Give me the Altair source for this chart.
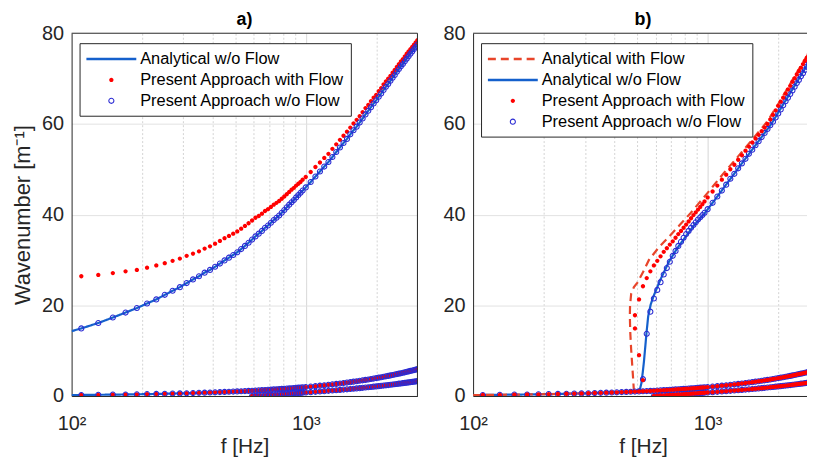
import altair as alt
import pandas as pd

# ---------------- data ----------------
# frequency grid of the "present approach" markers [Hz]
F_GRID = [110, 130, 150, 170, 190, 210, 230, 250, 270, 290, 310, 330, 350, 370, 390,
          410, 430, 450, 470, 490, 510, 530, 550, 570, 590, 610, 630, 650, 670, 690,
          710, 730, 750, 770, 790, 810, 830, 850, 870, 890, 910, 930, 950, 970,
          1000, 1050, 1100, 1150, 1200, 1250, 1300, 1350, 1400, 1450, 1500, 1550, 1600,
          1650, 1700, 1750, 1800, 1850, 1900, 1950, 2000, 2050, 2100, 2150, 2200, 2250,
          2300, 2350, 2400, 2450, 2500, 2550, 2600, 2650, 2700, 2750, 2800, 2850, 2900,
          2950, 3000]

F_LEFT = 100
A_UP_WO_LEFT = 14.3
LOW_A_LEFT = 0.2

# panel a) upper mode, without flow
A_UP_WO = [14.9, 16.1, 17.3, 18.4, 19.4, 20.4, 21.3, 22.3, 23.2, 24.0,
           24.9, 25.7, 26.4, 27.2, 27.8, 28.5, 29.2, 29.9, 30.5, 31.1,
           31.7, 32.4, 33.1, 33.8, 34.5, 35.2, 35.8, 36.4, 37.1, 37.6,
           38.2, 38.8, 39.3, 39.8, 40.4, 41.0, 41.6, 42.2, 42.7, 43.2,
           43.8, 44.3, 44.8, 45.3,
           46.0, 47.2, 48.4, 49.5, 50.6, 51.6, 52.7, 53.8, 54.8, 55.8,
           56.7, 57.7, 58.6, 59.4, 60.3, 61.2, 62.1, 62.9, 63.7, 64.5,
           65.2, 66.0, 66.7, 67.5, 68.2, 68.8, 69.5, 70.2, 70.8, 71.5,
           72.1, 72.7, 73.2, 73.8, 74.4, 74.9, 75.5, 76.0, 76.5, 77.0, 77.5]

# panel a) upper mode, with flow (present approach)
A_UP_WITH = [26.4, 26.7, 27.1, 27.5, 27.8, 28.3, 28.8, 29.3, 29.8, 30.3,
             30.9, 31.4, 31.9, 32.5, 33.0, 33.6, 34.2, 34.8, 35.3, 35.8,
             36.3, 36.9, 37.5, 38.1, 38.7, 39.3, 39.7, 40.2, 40.8, 41.2,
             41.7, 42.2, 42.6, 43.0, 43.5, 44.0, 44.5, 45.0, 45.5, 45.9,
             46.4, 46.8, 47.2, 47.7,
             48.3, 49.4, 50.5, 51.5, 52.5, 53.4, 54.5, 55.5, 56.5, 57.4,
             58.3, 59.2, 60.1, 60.9, 61.7, 62.6, 63.5, 64.2, 65.0, 65.8,
             66.4, 67.2, 67.9, 68.7, 69.4, 70.0, 70.6, 71.3, 71.9, 72.6,
             73.2, 73.8, 74.3, 74.9, 75.5, 76.0, 76.5, 77.0, 77.5, 78.0, 78.5]

# lower branches (both panels)
LOW_A = [0.22, 0.26, 0.30, 0.33, 0.37, 0.41, 0.45, 0.49, 0.53, 0.57,
         0.61, 0.65, 0.69, 0.73, 0.77, 0.81, 0.85, 0.89, 0.93, 0.97,
         1.00, 1.04, 1.08, 1.12, 1.16, 1.20, 1.24, 1.28, 1.32, 1.36,
         1.40, 1.44, 1.48, 1.52, 1.56, 1.60, 1.64, 1.67, 1.71, 1.75,
         1.79, 1.83, 1.87, 1.91,
         1.97, 2.07, 2.17, 2.27, 2.36, 2.46, 2.56, 2.66, 2.76, 2.86,
         2.96, 3.05, 3.15, 3.25, 3.35, 3.45, 3.55, 3.64, 3.74, 3.84,
         3.94, 4.04, 4.14, 4.24, 4.33, 4.43, 4.53, 4.63, 4.73, 4.83,
         4.92, 5.02, 5.12, 5.22, 5.32, 5.42, 5.52, 5.61, 5.71, 5.81, 5.91]

LOW_B = [0.00, 0.05, 0.10, 0.14, 0.18, 0.22, 0.26, 0.30, 0.33, 0.37,
         0.40, 0.44, 0.47, 0.51, 0.54, 0.58, 0.61, 0.65, 0.68, 0.71,
         0.76, 0.84, 0.92, 0.99, 1.06, 1.13, 1.20, 1.27, 1.34, 1.41,
         1.47, 1.54, 1.60, 1.67, 1.73, 1.80, 1.86, 1.93, 1.99, 2.05,
         2.11, 2.17, 2.23, 2.29, 2.35, 2.41, 2.47, 2.53, 2.59, 2.65,
         2.71, 2.76, 2.82, 2.88, 2.94, 2.99, 3.05, 3.11, 3.16, 3.22, 3.27]

# panel b) analytical curves of the cut-on mode
B_ANA_WITH_F = [485, 481, 476, 472, 468, 466, 467, 472, 485, 502, 530, 562, 620, 684,
                760, 845, 1000, 1200, 1400, 1600, 1800, 2000, 2200, 2400, 2600, 2813]
B_ANA_WITH_K = [1.0, 4.0, 7.5, 10.3, 14.0, 17.6, 20.0, 22.5, 24.0, 25.0, 27.3, 30.0, 32.8, 35.1,
                37.7, 40.3, 44.8, 49.8, 53.8, 57.4, 60.6, 64.4, 68.0, 71.3, 74.3, 77.0]
B_ANA_WO_F = [501, 515, 522, 527, 535, 541, 549, 558, 572, 590, 610, 631, 684, 740,
              805, 880, 962, 1100, 1219, 1400, 1600, 1870, 2000, 2200, 2400, 2600, 2813]
B_ANA_WO_K = [1.0, 1.6, 2.8, 4.5, 7.5, 10.3, 14.0, 17.6, 20.2, 22.2, 24.0, 25.8, 29.6, 32.5,
              35.1, 37.8, 40.0, 44.0, 47.1, 51.3, 55.3, 60.0, 62.5, 66.0, 69.2, 72.2, 75.0]

# panel b) present approach, cut-on mode
B_DOT_WITH_F_LOW = [530, 510, 490, 490, 510, 530, 550, 570, 590, 610, 630, 650, 670, 690,
                    710, 730, 750, 770, 790, 810, 830, 850, 870, 890, 910, 930, 950, 970]
B_DOT_WITH_K = [3.5, 9.0, 14.9, 17.8, 21.3, 24.2, 26.0, 27.5, 28.8, 29.8, 30.8, 31.8, 32.6, 33.4,
                34.1, 34.9, 35.7, 36.4, 37.1, 37.8, 38.5, 39.2, 39.9, 40.5, 41.1, 41.7, 42.3, 42.9,
                43.8, 45.1, 46.4, 47.7, 48.8, 50.0, 51.0, 52.1, 53.1, 54.1,
                55.0, 55.9, 56.8, 57.6, 58.4, 59.2, 60.0, 61.0, 62.0, 63.0,
                64.0, 64.9, 65.8, 66.7, 67.6, 68.4, 69.3, 70.1, 70.9, 71.7,
                72.4, 73.2, 73.9, 74.6, 75.3, 76.0, 76.7, 77.4, 78.0, 78.7, 79.3]
B_CIRC_WO_K = [3.7, 13.7, 18.6, 21.5, 23.4, 25.1, 26.8, 28.2, 29.6, 30.9,
               32.0, 33.1, 34.0, 34.9, 35.7, 36.4, 37.1, 37.7, 38.3, 38.9,
               39.4, 39.9, 40.4,
               41.2, 42.6, 44.0, 45.3, 46.6, 47.9, 49.0, 50.2, 51.3, 52.3,
               53.4, 54.3, 55.3, 56.2, 57.1, 58.0, 58.9, 59.7, 60.5, 61.4,
               62.3, 63.2, 64.1, 65.0, 65.8, 66.6, 67.4, 68.2, 69.0, 69.7,
               70.5, 71.2, 71.9, 72.6, 73.3, 74.0, 74.7, 75.4, 76.0, 76.6, 77.2]

X_TICKS_A = [100, 200, 300, 400, 500, 600, 700, 800, 900, 1000, 2000, 3000]
X_TICKS_B = [100, 200, 300, 400, 500, 600, 700, 800, 900, 1000, 2000]
Y_TICKS = [0, 20, 40, 60, 80]

AN_WITH = "Analytical with Flow"
AN_WO = "Analytical w/o Flow"
PA_WITH = "Present Approach with Flow"
PA_WO = "Present Approach w/o Flow"

# ---------------- styling ----------------
FONT = "Liberation Sans"
C_DASH = "#E8452A"
C_LINE = "#1560CC"
C_DOT = "#FF0000"
C_RING = "#2B2BD3"
INK = "#262626"
LINE_PATH = "M-3,0L3,0"
DOT_PATH = "M-0.26,0A0.26,0.26,0,1,0,0.26,0A0.26,0.26,0,1,0,-0.26,0Z"
RING_PATH = ("M-0.37,0A0.37,0.37,0,1,0,0.37,0A0.37,0.37,0,1,0,-0.37,0Z"
             "M-0.24,0A0.24,0.24,0,1,1,0.24,0A0.24,0.24,0,1,1,-0.24,0Z")

F_LOW_B = F_GRID[F_GRID.index(590):]
F_FROM_1000 = F_GRID[F_GRID.index(1000):]
F_FROM_530 = F_GRID[F_GRID.index(530):]


def frame(series, branch, fs, ks):
    return pd.DataFrame({"f": fs, "k": ks, "series": series, "branch": branch,
                         "i": list(range(len(fs)))})


def lows(series, with_left):
    fa = ([F_LEFT] + F_GRID) if with_left else F_GRID
    ka = ([LOW_A_LEFT] + LOW_A) if with_left else LOW_A
    return [frame(series, "lowA", fa, ka), frame(series, "lowB", F_LOW_B, LOW_B)]


# panel a frames
lines_a = pd.concat([frame(AN_WO, "up", [F_LEFT] + F_GRID, [A_UP_WO_LEFT] + A_UP_WO)]
                    + lows(AN_WO, True))
dots_a = pd.concat([frame(PA_WITH, "up", F_GRID, A_UP_WITH)] + lows(PA_WITH, False))
rings_a = pd.concat([frame(PA_WO, "up", F_GRID, A_UP_WO)] + lows(PA_WO, False))

# panel b frames
lines_b_wo = pd.concat([frame(AN_WO, "up", B_ANA_WO_F, B_ANA_WO_K)] + lows(AN_WO, True))
lines_b_with = pd.concat([frame(AN_WITH, "up", B_ANA_WITH_F, B_ANA_WITH_K)] + lows(AN_WITH, True))
rings_b = pd.concat([frame(PA_WO, "up", F_FROM_530, B_CIRC_WO_K)] + lows(PA_WO, False))
dots_b = pd.concat([frame(PA_WITH, "up", B_DOT_WITH_F_LOW + F_FROM_1000, B_DOT_WITH_K)]
                   + lows(PA_WITH, False))


def build_panel(title, entries, strokes, fills, shapes, dashes, line_frames, point_frames,
                xmax, xvals, ytitle, width, right_frame):
    leg = alt.Legend(title=None, orient="none", legendX=8, legendY=10, direction="vertical",
                     fillColor="white", strokeColor=INK, padding=6, cornerRadius=0,
                     labelFont=FONT, labelFontSize=16.5, labelColor="#000000", labelLimit=500,
                     symbolSize=280, symbolStrokeWidth=2.5, symbolFillColor="transparent",
                     symbolStrokeColor="transparent", symbolOffset=16, labelOffset=19,
                     rowPadding=2)
    x_edge = "datum.value == 100 || datum.value == %d" % xmax
    x = alt.X("f:Q", scale=alt.Scale(type="log", domain=[100, xmax]),
              axis=alt.Axis(values=xvals, title="f [Hz]", grid=True,
                            labelExpr="datum.value == 100 ? '10²' : (datum.value == 1000 ? '10³' : '')",
                            gridDash={"condition": {"test": "datum.value == 1000", "value": [1, 0]},
                                      "value": [2, 2]},
                            gridOpacity={"condition": {"test": x_edge, "value": 0}, "value": 1},
                            gridColor="#D4D4D4", labelPadding=18, titlePadding=2,
                            titleFontSize=21,
                            labelFlush=False, labelOverlap=False, ticks=False,
                            domain=True, domainColor=INK))
    y = alt.Y("k:Q", scale=alt.Scale(domain=[0, 80]),
              axis=alt.Axis(title=ytitle if ytitle else "", values=Y_TICKS, grid=True,
                            gridColor="#E2E2E2",
                            gridOpacity={"condition": {"test": "datum.value == 0 || datum.value == 80",
                                                       "value": 0}, "value": 1},
                            labelPadding=8, titlePadding=7, labelFlush=False, ticks=False,
                            domain=True, domainColor=INK))
    stroke = alt.Stroke("series:N", scale=alt.Scale(domain=entries, range=strokes), legend=leg)
    fill = alt.Fill("series:N", scale=alt.Scale(domain=entries, range=fills), legend=leg)
    shape = alt.Shape("series:N", scale=alt.Scale(domain=entries, range=shapes), legend=leg)
    dash = alt.StrokeDash("series:N", scale=alt.Scale(domain=entries, range=dashes), legend=leg)
    layers = []
    for df in line_frames:
        layers.append(alt.Chart(df).mark_line(strokeWidth=2.2, clip=True).encode(
            x=x, y=y, stroke=stroke, strokeDash=dash, detail="branch:N", order="i:Q"))
    for df in point_frames:
        layers.append(alt.Chart(df).mark_point(filled=True, size=280, opacity=1, clip=True).encode(
            x=x, y=y, stroke=stroke, fill=fill, shape=shape))
    # top frame line (and right frame line where the panel ends inside the picture)
    layers.append(alt.Chart(pd.DataFrame({"k": [80]})).mark_rule(color=INK, strokeWidth=1)
                  .encode(y=y))
    if right_frame:
        layers.append(alt.Chart(pd.DataFrame({"f": [xmax]})).mark_rule(color=INK, strokeWidth=1)
                      .encode(x=x))
    ch = alt.layer(*layers).properties(
        width=width, height=365,
        title=alt.TitleParams(title, fontSize=18, fontWeight="bold", color="#000000",
                              offset=0, dy=6, anchor="middle", font=FONT, frame="group"),
        view=alt.ViewBackground(stroke="transparent"))
    return ch


panel_a = build_panel(
    "a)", [AN_WO, PA_WITH, PA_WO],
    [C_LINE, "transparent", "transparent"],
    ["transparent", C_DOT, C_RING],
    [LINE_PATH, DOT_PATH, RING_PATH],
    [[1, 0], [1, 0], [1, 0]],
    [lines_a], [dots_a, rings_a],
    3000, X_TICKS_A, "Wavenumber [m⁻¹]", 348, True)

panel_b = build_panel(
    "b)", [AN_WITH, AN_WO, PA_WITH, PA_WO],
    [C_DASH, C_LINE, "transparent", "transparent"],
    ["transparent", "transparent", C_DOT, C_RING],
    [LINE_PATH, LINE_PATH, DOT_PATH, RING_PATH],
    [[8, 5], [1, 0], [1, 0], [1, 0]],
    [lines_b_wo, lines_b_with], [rings_b, dots_b],
    2813, X_TICKS_B, None, 342, False)

chart = (
    alt.hconcat(panel_a, panel_b, spacing=24)
    .resolve_scale(x="independent", y="independent", stroke="independent",
                   fill="independent", shape="independent", strokeDash="independent")
    .resolve_legend(stroke="independent", fill="independent", shape="independent",
                    strokeDash="independent")
    .properties(padding={"left": 3, "top": 1, "right": -7, "bottom": -2})
    .configure(font=FONT)
    .configure_axis(labelFont=FONT, titleFont=FONT, labelColor=INK, titleColor=INK,
                    labelFontSize=20, titleFontSize=22, titleFontWeight="normal")
    .configure_view(stroke="transparent")
)

chart.save("out.html", embed_options={"renderer": "svg", "actions": False})
